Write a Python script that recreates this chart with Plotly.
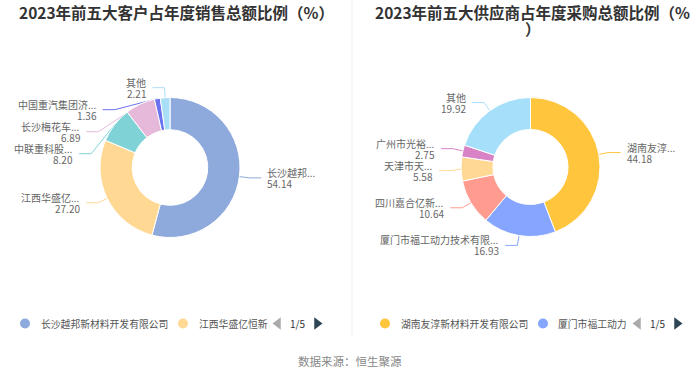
import math
import plotly.graph_objects as go

W, H = 700, 378

# ---------------- data ----------------
cust_labels = ["长沙越邦...", "江西华盛亿...", "中联重科股...", "长沙梅花车...", "中国重汽集团济...", "其他"]
cust_values = [54.14, 27.20, 8.20, 6.89, 1.36, 2.21]
cust_colors = ["#8eaadc", "#ffd993", "#7fd3d6", "#e6b8da", "#6b72f0", "#a9def7"]
cust_legend = ["长沙越邦新材料开发有限公司", "江西华盛亿恒新"]

supp_labels = ["湖南友淳...", "厦门市福工动力技术有限...", "四川嘉合亿新...", "天津市天...", "广州市光裕...", "其他"]
supp_values = [44.18, 16.93, 10.64, 5.58, 2.75, 19.92]
supp_colors = ["#ffc53d", "#85a5ff", "#ff9c8f", "#ffd993", "#d883c6", "#a6dffa"]
supp_legend = ["湖南友淳新材料开发有限公司", "厦门市福工动力"]

page_text = "1/5"
title_left = "2023年前五大客户占年度销售总额比例（%）"
title_right = ["2023年前五大供应商占年度采购总额比例（%", "）"]
source_text = "数据来源：恒生聚源"

FONT = "Noto Sans CJK SC, Microsoft YaHei, sans-serif"
LEN1, LEN2, GAP, MINSEP = 10, 12, 4, 22
LBL_SIZE = 10

fig = go.Figure()


def px2paper_x(x):
    return x / W


def px2paper_y(y):
    return 1 - y / H


def add_donut(cx, cy, r, labels, values, colors):
    fig.add_trace(go.Pie(
        labels=labels, values=values, hole=0.54, sort=False, direction="clockwise",
        rotation=0, marker=dict(colors=colors, line=dict(color="white", width=1)),
        textinfo="none", hoverinfo="label+value", showlegend=False,
        domain=dict(x=[px2paper_x(cx - r), px2paper_x(cx + r)],
                    y=[px2paper_y(cy + r), px2paper_y(cy - r)]),
    ))
    total = sum(values)
    cum = 0
    items = []
    for lab, v, c in zip(labels, values, colors):
        mid = (cum + v / 2) / total * 2 * math.pi
        cum += v
        dx, dy = math.sin(mid), -math.cos(mid)
        R = r + LEN1
        items.append(dict(lab=lab, v=v, c=c, dx=dx, dy=dy,
                          ex=cx + r * dx, ey=cy + r * dy,
                          bx=cx + R * dx, by=cy + R * dy,
                          side=1 if dx >= 0 else -1))
    R = r + LEN1
    for side in (1, -1):
        grp = sorted([it for it in items if it["side"] == side], key=lambda t: t["by"])
        for i in range(1, len(grp)):
            if grp[i]["by"] - grp[i - 1]["by"] < MINSEP:
                grp[i]["by"] = grp[i - 1]["by"] + MINSEP
                ddy = grp[i]["by"] - cy
                if abs(ddy) < R:
                    grp[i]["bx"] = cx + side * math.sqrt(R * R - ddy * ddy)
    for it in items:
        endx = it["bx"] + it["side"] * LEN2
        fig.add_trace(go.Scatter(
            x=[it["ex"], it["bx"], endx], y=[it["ey"], it["by"], it["by"]],
            mode="lines", line=dict(color=it["c"], width=1), hoverinfo="skip",
            showlegend=False, xaxis="x", yaxis="y"))
        for txt, off in ((it["lab"], -5.5), (f"{it['v']:.2f}", 5.5)):
            fig.add_annotation(
                x=endx + it["side"] * GAP, y=it["by"] + off, xref="x", yref="y",
                text=txt, showarrow=False,
                xanchor="left" if it["side"] > 0 else "right", yanchor="middle",
                font=dict(family=FONT, size=LBL_SIZE, color="#666"))


add_donut(170, 167.5, 70, cust_labels, cust_values, cust_colors)
add_donut(530.5, 167, 69.5, supp_labels, supp_values, supp_colors)


def add_legend(y, entries, colors, xs):
    # xs: circle1, text1, circle2, text2, left arrow, page text, right arrow
    for i, (name, col) in enumerate(zip(entries, colors)):
        fig.add_trace(go.Scatter(x=[xs[2 * i]], y=[y], mode="markers",
                                 marker=dict(symbol="circle", size=10, color=col),
                                 hoverinfo="skip", showlegend=False))
        fig.add_annotation(x=xs[2 * i + 1], y=y, xref="x", yref="y", text=name,
                           showarrow=False, xanchor="left", yanchor="middle",
                           font=dict(family=FONT, size=9.8, color="#555"))
    fig.add_trace(go.Scatter(x=[xs[4]], y=[y], mode="markers",
                             marker=dict(symbol="triangle-left", size=11, color="#aaaaaa"),
                             hoverinfo="skip", showlegend=False))
    fig.add_annotation(x=xs[5], y=y, xref="x", yref="y", text=page_text,
                       showarrow=False, xanchor="center", yanchor="middle",
                       font=dict(family=FONT, size=10, color="#333"))
    fig.add_trace(go.Scatter(x=[xs[6]], y=[y], mode="markers",
                             marker=dict(symbol="triangle-right", size=11, color="#2f4554"),
                             hoverinfo="skip", showlegend=False))


add_legend(323.5, cust_legend, cust_colors[:2], [25, 39, 183, 197, 278, 297.5, 317])
add_legend(323.5, supp_legend, supp_colors[:2], [385, 399, 543, 556, 638, 657.5, 677])

# divider
fig.add_trace(go.Scatter(x=[352, 352], y=[0, 335], mode="lines",
                         line=dict(color="#eeeeee", width=1), hoverinfo="skip", showlegend=False))

# titles
fig.add_annotation(x=176, y=12, xref="x", yref="y", text=f"<b>{title_left}</b>",
                   showarrow=False, xanchor="center", yanchor="middle",
                   font=dict(family=FONT, size=15.5, color="#333"))
for i, line in enumerate(title_right):
    fig.add_annotation(x=532 if i == 0 else 533, y=12 + 16 * i, xref="x", yref="y",
                       text=f"<b>{line}</b>",
                       showarrow=False, xanchor="center", yanchor="middle",
                       font=dict(family=FONT, size=15.5, color="#333"))
fig.add_annotation(x=350, y=361, xref="x", yref="y", text=source_text,
                   showarrow=False, xanchor="center", yanchor="middle",
                   font=dict(family=FONT, size=11.5, color="#888"))

fig.update_layout(
    width=W, height=H, margin=dict(l=0, r=0, t=0, b=0),
    paper_bgcolor="white", plot_bgcolor="rgba(0,0,0,0)",
    xaxis=dict(range=[0, W], visible=False, fixedrange=True, domain=[0, 1]),
    yaxis=dict(range=[H, 0], visible=False, fixedrange=True, domain=[0, 1]),
    showlegend=False,
)

fig.write_html("out.html", config={"displayModeBar": False},
               post_script="document.body.style.margin='0';document.body.style.padding='0';")
